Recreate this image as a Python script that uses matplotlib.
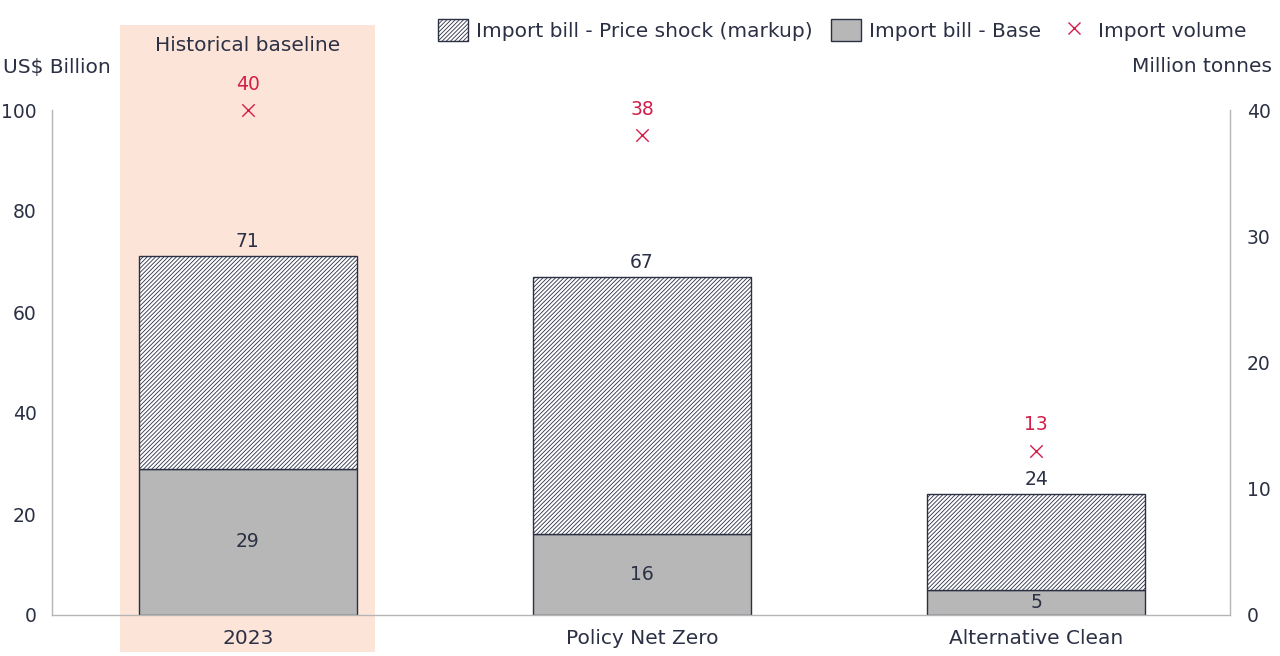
import matplotlib
matplotlib.use("Agg")
import matplotlib.pyplot as plt
from matplotlib.patches import Patch, Rectangle
from matplotlib.lines import Line2D

categories = ["2023", "Policy Net Zero", "Alternative Clean"]
base_bill = [29, 16, 5]
total_bill = [71, 67, 24]
import_volume = [40, 38, 13]
left_ticks = [0, 20, 40, 60, 80, 100]
right_ticks = [0, 10, 20, 30, 40]

NAVY = "#2b3044"
GREY = "#b7b7b7"
RED = "#d21f4a"
BAND = "#fde4d9"
SPINE = "#b5b5b5"

plt.rcParams['font.family'] = ['DejaVu Sans']
plt.rcParams['hatch.color'] = NAVY
plt.rcParams['hatch.linewidth'] = 0.6
FS = 14.5   # words
FN = 13.5   # numbers

fig = plt.figure(figsize=(12.8, 6.56), dpi=100)
ax = fig.add_axes([52/1280, 41/656, (1230-52)/1280, 505/656])
ax2 = ax.twinx()

x = list(range(len(categories)))
w = 0.553
markup = [t - b for t, b in zip(total_bill, base_bill)]

# Historical baseline band
band = Rectangle((-0.325, -7.3), 0.647, 124.1, facecolor=BAND, edgecolor='none',
                 clip_on=False, zorder=0, transform=ax.transData)
ax.add_patch(band)
ax.text(0, 112.8, "Historical baseline", ha='center', va='center', fontsize=FS, color=NAVY)

ax.bar(x, base_bill, width=w, color=GREY, edgecolor=NAVY, linewidth=1.0, zorder=2)
ax.bar(x, markup, bottom=base_bill, width=w, color='white', edgecolor=NAVY,
       linewidth=1.0, hatch='////////', zorder=2)

for xi, b, t in zip(x, base_bill, total_bill):
    ax.text(xi, b / 2, f"{b}", ha='center', va='center', fontsize=FN, color=NAVY, zorder=3)
    ax.text(xi, t + 1.0, f"{t}", ha='center', va='bottom', fontsize=FN, color=NAVY, zorder=3)

ax2.scatter(x, import_volume, marker='x', s=80, color=RED, linewidths=1.0, zorder=4,
            clip_on=False)
for xi, v in zip(x, import_volume):
    ax2.text(xi, v + 1.3, f"{v}", ha='center', va='bottom', fontsize=FN, color=RED)

ax.set_xlim(-0.497, 2.492)
ax.set_ylim(0, 100)
ax2.set_ylim(0, 40)
ax.set_xticks(x)
ax.set_xticklabels(categories)
ax.set_yticks(left_ticks)
ax2.set_yticks(right_ticks)

for a in (ax, ax2):
    for s in a.spines.values():
        s.set_visible(False)
ax.spines['left'].set_visible(True)
ax.spines['bottom'].set_visible(True)
ax2.spines['right'].set_visible(True)
for s in (ax.spines['left'], ax.spines['bottom'], ax2.spines['right']):
    s.set_color(SPINE)
    s.set_linewidth(1.0)
ax.spines['bottom'].set_zorder(5)

ax.tick_params(axis='both', length=0, labelcolor=NAVY)
ax.tick_params(axis='y', pad=11, labelsize=FN)
ax.tick_params(axis='x', pad=10, labelsize=FS)
ax2.tick_params(axis='y', length=0, labelsize=FN, labelcolor=NAVY, pad=12)
ax.patch.set_visible(False)

fig.text(3/1280, 1 - 67/656, "US$ Billion", ha='left', va='center', fontsize=FS, color=NAVY)
fig.text(1272/1280, 1 - 67/656, "Million tonnes", ha='right', va='center', fontsize=FS, color=NAVY)

handles = [
    Patch(facecolor='white', edgecolor=NAVY, hatch='////////', label="Import bill - Price shock (markup)"),
    Patch(facecolor=GREY, edgecolor=NAVY, label="Import bill - Base"),
    Line2D([], [], marker='x', linestyle='none', color=RED, markersize=9, markeredgewidth=1.0,
           label="Import volume"),
]
leg = fig.legend(handles=handles, loc='center right', bbox_to_anchor=(1246/1280, 1 - 30/656),
                 ncol=3, frameon=False, fontsize=FS, handlelength=1.5, handleheight=1.3,
                 handletextpad=0.4, columnspacing=0.9, borderaxespad=0, borderpad=0)
for t in leg.get_texts():
    t.set_color(NAVY)

fig.savefig("out.png", dpi=100)
